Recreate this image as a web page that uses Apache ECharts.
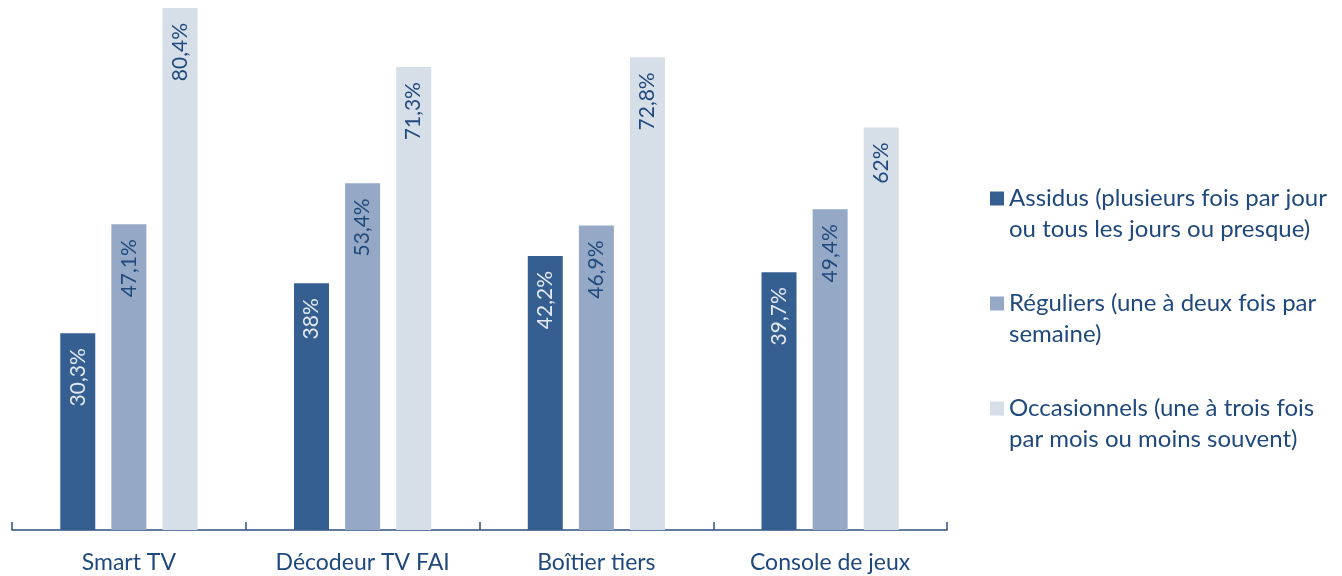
<!DOCTYPE html>
<html>
<head>
<meta charset="utf-8">
<script src="https://cdn.jsdelivr.net/npm/echarts@6/dist/echarts.min.js"></script>
<style>html,body{margin:0;padding:0;background:#fff}#c{width:1342px;height:576px}</style>
</head>
<body>
<div id="c"></div>
<script>
const categories = ['Smart TV', 'Décodeur TV FAI', 'Boîtier tiers', 'Console de jeux'];
const seriesNames = [
  'Assidus (plusieurs fois par jour\nou tous les jours ou presque)',
  'Réguliers (une à deux fois par\nsemaine)',
  'Occasionnels (une à trois fois\npar mois ou moins souvent)'
];
const assidus = [30.3, 38, 42.2, 39.7];
const reguliers = [47.1, 53.4, 46.9, 49.4];
const occasionnels = [80.4, 71.3, 72.8, 62];

const FONT = 'Lato';
const TXT = '#1F497D';
const colors = ['#365F91', '#95A9C6', '#D6DEE8'];
const labelColors = ['#E4EAF2', TXT, TXT];
const fmt = p => String(p.value).replace('.', ',') + '%';

function mk(name, data, i) {
  return {
    name: name, type: 'bar', data: data, barWidth: 35, barGap: '46%',
    itemStyle: { color: colors[i] },
    label: {
      show: true, position: 'insideTop', distance: 15, rotate: 90,
      align: 'right', verticalAlign: 'middle',
      formatter: fmt, color: labelColors[i], fontFamily: FONT, fontSize: 21
    }
  };
}

const chart = echarts.init(document.getElementById('c'));
chart.setOption({
  animation: false,
  grid: { left: 12, right: 395, top: 8, bottom: 46 },
  legend: {
    orient: 'vertical', left: 985, top: 147, itemGap: 12,
    itemWidth: 14, itemHeight: 14, icon: 'rect',
    formatter: name => ' \n' + name,
    textStyle: { color: TXT, fontFamily: FONT, fontSize: 24, lineHeight: 31 },
    data: seriesNames
  },
  xAxis: {
    type: 'category', data: categories,
    axisLine: { lineStyle: { color: '#2E4F7E', width: 1.5 } },
    axisTick: { show: true, inside: true, length: 8, alignWithLabel: false, lineStyle: { color: '#2E4F7E', width: 1.5 } },
    axisLabel: { color: TXT, fontFamily: FONT, fontSize: 23, margin: 21 }
  },
  yAxis: { type: 'value', min: 0, max: 80.4, show: false, splitLine: { show: false } },
  series: [mk(seriesNames[0], assidus, 0), mk(seriesNames[1], reguliers, 1), mk(seriesNames[2], occasionnels, 2)]
});
</script>
</body>
</html>
